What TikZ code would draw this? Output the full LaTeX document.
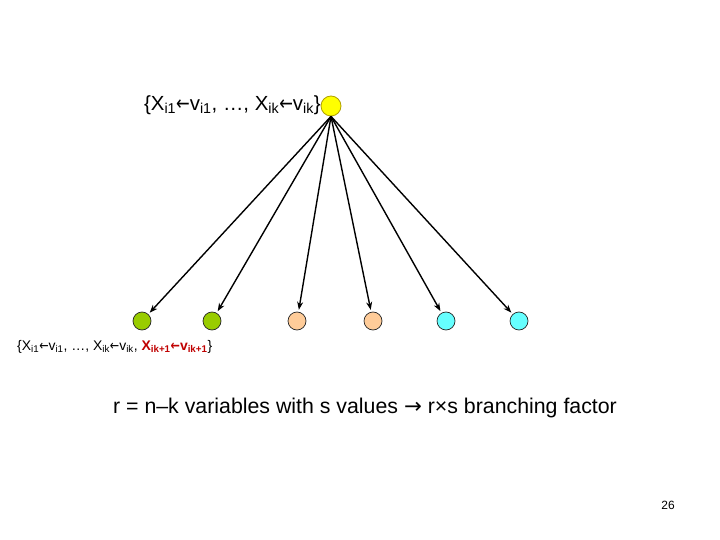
\documentclass[tikz,border=0pt]{standalone}
\usepackage{fontspec}
\setmainfont{Liberation Sans}
\newfontfamily\arrowfont{DejaVu Sans}
\usetikzlibrary{arrows.meta}
\definecolor{nodeyellow}{HTML}{FFFF00}
\definecolor{nodegreen}{HTML}{99CC00}
\definecolor{nodepeach}{HTML}{FFCC99}
\definecolor{nodecyan}{HTML}{66FFFF}
\definecolor{darkred}{HTML}{C00000}
\definecolor{rootline}{HTML}{B0A000}
\newcommand{\sbs}[1]{\textsubscript{#1}}
\newcommand{\larr}{{\arrowfont\scalebox{0.8}[1]{←}}}
\newcommand{\rarr}{{\arrowfont →}}
\tikzset{
  rootnode/.style={circle,draw=rootline,line width=0.8pt,fill=nodeyellow,minimum size=20bp,inner sep=0pt},
  leaf/.style={circle,draw=black!85,line width=0.7pt,minimum size=18bp,inner sep=0pt},
  edge/.style={-{Stealth[length=8bp,width=6bp]},line width=1.4pt,black,shorten >=2bp},
  lbl/.style={inner sep=0pt,text=black}
}
\begin{document}
\begin{tikzpicture}[x=1bp,y=-1bp]
\useasboundingbox[fill=white] (0,0) rectangle (720,540);
\node[rootnode] (root) at (331,106) {};
\node[leaf,fill=nodegreen] (c1) at (142,321) {};
\node[leaf,fill=nodegreen] (c2) at (212,321) {};
\node[leaf,fill=nodepeach] (c3) at (297,321) {};
\node[leaf,fill=nodepeach] (c4) at (373,321) {};
\node[leaf,fill=nodecyan] (c5) at (446,321) {};
\node[leaf,fill=nodecyan] (c6) at (519,321) {};
\foreach \c in {c1,c2,c3,c4,c5,c6}{\draw[edge] (root.south) -- (\c);}
\node[lbl,anchor=east,font=\fontsize{20.5}{24}\selectfont] (top) at (321,105)
  {\{X\sbs{i1}\larr v\sbs{i1}, …, X\sbs{ik}\larr v\sbs{ik}\}};
\node[lbl,anchor=west,font=\fontsize{14}{17}\selectfont] (bot) at (17,347)
  {\{X\sbs{i1}\larr v\sbs{i1}, …, X\sbs{ik}\larr v\sbs{ik}, \textcolor{darkred}{\textbf{X\sbs{ik+1}\larr v\sbs{ik+1}}}\}};
\node[lbl,font=\fontsize{21.4}{25}\selectfont] (mid) at (365,408)
  {r = n–k variables with s values \rarr\ r×s branching factor};
\node[lbl,font=\fontsize{12}{14}\selectfont] (pg) at (668,505) {26};
\end{tikzpicture}
\end{document}
